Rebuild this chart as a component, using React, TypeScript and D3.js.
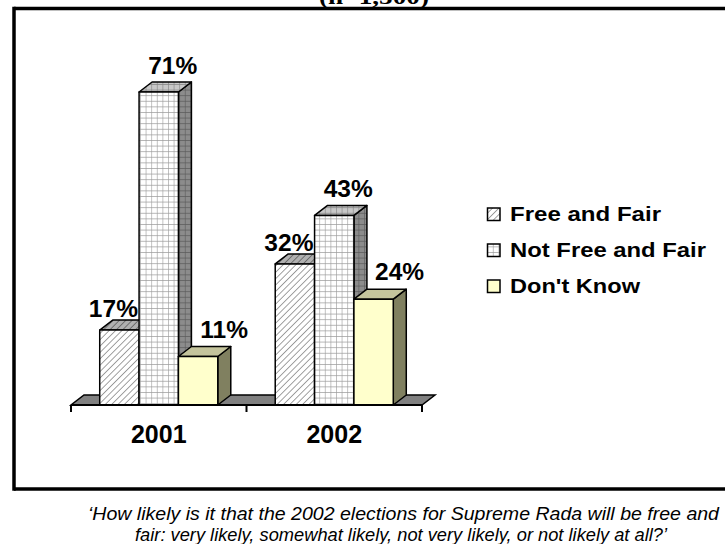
import React, { useEffect } from "react";
import * as d3 from "d3";

const categories = ["2001", "2002"];
const seriesNames = ["Free and Fair", "Not Free and Fair", "Don't Know"];
const freeAndFair = [17, 32];
const notFreeAndFair = [71, 43];
const dontKnow = [11, 24];
const titleText = "(n=1,500)";
const captionLines = [
  "\u2018How likely is it that the 2002 elections for Supreme Rada will be free and",
  "fair: very likely, somewhat likely, not very likely, or not likely at all?\u2019",
];

const seriesValues = [freeAndFair, notFreeAndFair, dontKnow];

const W = 725;
const H = 544;
const DX = 13;
const DY = -10;
const FONT = "'Liberation Sans', Arial, Helvetica, sans-serif";

// per-series face fills and label offsets (style)
const faceFills = [
  { front: "url(#hatchFront)", top: "url(#hatchTop)", side: "url(#hatchSide)" },
  { front: "url(#gridFront)", top: "url(#gridTop)", side: "url(#gridSide)" },
  { front: "#FFFFCC", top: "#C4C49C", side: "#808060" },
];
const legendFills = ["url(#hatchFront)", "url(#gridFront)", "#FFFFCC"];
const legendWidths = [151, 196, 130];
const labelOffsets = [
  { dx: -6, dy: -3 },
  { dx: 14, dy: -8 },
  { dx: 26, dy: -9 },
];

export default function App() {
  useEffect(() => {
    document.body.style.margin = "0";
    document.body.style.overflow = "hidden";
  }, []);

  const x0 = d3.scaleBand<string>().domain(categories).range([71, 422]).padding(0);
  const x1 = d3
    .scaleBand<string>()
    .domain(seriesNames)
    .range([0, x0.bandwidth()])
    .paddingInner(0)
    .paddingOuter(0.73);
  const y = d3.scaleLinear().domain([0, 80]).range([405, 52.3]);
  const base = y(0);
  const [axL, axR] = x0.range();

  const bars: React.ReactNode[] = [];
  const labels: React.ReactNode[] = [];
  categories.forEach((cat, ci) => {
    seriesNames.forEach((s, si) => {
      const v = seriesValues[si][ci];
      const xa = (x0(cat) ?? 0) + (x1(s) ?? 0);
      const xb = xa + x1.bandwidth();
      const yt = y(v);
      const f = faceFills[si];
      const key = `${ci}-${si}`;
      bars.push(
        <g key={key} stroke="#000" strokeWidth={1.5} strokeLinejoin="round">
          <polygon
            points={`${xb},${yt} ${xb + DX},${yt + DY} ${xb + DX},${base + DY} ${xb},${base}`}
            fill={f.side}
          />
          <polygon
            points={`${xa},${yt} ${xb},${yt} ${xb + DX},${yt + DY} ${xa + DX},${yt + DY}`}
            fill={f.top}
          />
          <rect x={xa} y={yt} width={xb - xa} height={base - yt} fill={f.front} />
        </g>
      );
      labels.push(
        <text
          key={"l" + key}
          x={(xa + xb) / 2 + labelOffsets[si].dx}
          y={yt + DY + labelOffsets[si].dy}
          textAnchor="middle"
          fontFamily={FONT}
          fontWeight="bold"
          fontSize={24.5}
        >
          {v}%
        </text>
      );
    });
  });

  return (
    <svg
      width={W}
      height={H}
      style={{ display: "block", background: "#fff", overflow: "hidden" }}
    >
      <defs>
        <pattern id="hatchFront" patternUnits="userSpaceOnUse" width={4.5} height={4.5} patternTransform="rotate(45)">
          <rect width={4.5} height={4.5} fill="#fff" />
          <line x1={0} y1={0} x2={0} y2={4.5} stroke="#8a8a8a" strokeWidth={1.6} />
        </pattern>
        <pattern id="hatchTop" patternUnits="userSpaceOnUse" width={4.5} height={4.5} patternTransform="rotate(45)">
          <rect width={4.5} height={4.5} fill="#b0b0b0" />
          <line x1={0} y1={0} x2={0} y2={4.5} stroke="#606060" strokeWidth={1.6} />
        </pattern>
        <pattern id="hatchSide" patternUnits="userSpaceOnUse" width={4.5} height={4.5} patternTransform="rotate(45)">
          <rect width={4.5} height={4.5} fill="#808080" />
          <line x1={0} y1={0} x2={0} y2={4.5} stroke="#404040" strokeWidth={1.6} />
        </pattern>
        <pattern id="gridFront" patternUnits="userSpaceOnUse" width={5.6} height={5.6}>
          <rect width={5.6} height={5.6} fill="#fff" />
          <path d="M0,0 H5.6 M0,0 V5.6" stroke="#9a9a9a" strokeWidth={1.2} fill="none" />
        </pattern>
        <pattern id="gridTop" patternUnits="userSpaceOnUse" width={5.6} height={5.6}>
          <rect width={5.6} height={5.6} fill="#c8c8c8" />
          <path d="M0,0 H5.6 M0,0 V5.6" stroke="#808080" strokeWidth={1.2} fill="none" />
        </pattern>
        <pattern id="gridSide" patternUnits="userSpaceOnUse" width={5.6} height={5.6}>
          <rect width={5.6} height={5.6} fill="#8c8c8c" />
          <path d="M0,0 H5.6 M0,0 V5.6" stroke="#5a5a5a" strokeWidth={1.2} fill="none" />
        </pattern>
      </defs>

      {/* title (cut off at top, as in the source) */}
      <text
        x={374}
        y={4}
        textAnchor="middle"
        fontFamily="'Liberation Serif', 'Times New Roman', serif"
        fontWeight="bold"
        fontSize={22}
        textLength={110}
        lengthAdjust="spacingAndGlyphs"
      >
        {titleText}
      </text>

      {/* frame: top, left and bottom edges (right edge lies outside the picture) */}
      <line x1={14} x2={W + 200} y1={8.5} y2={8.5} stroke="#000" strokeWidth={3.5} />
      <line x1={14} x2={W + 200} y1={489} y2={489} stroke="#000" strokeWidth={3.5} />
      <line x1={14} x2={14} y1={6.75} y2={490.75} stroke="#000" strokeWidth={3.5} />

      {/* floor */}
      <polygon
        points={`${axL},${base} ${axR},${base} ${axR + DX},${base + DY} ${axL + DX},${base + DY}`}
        fill="#808080"
        stroke="#000"
        strokeWidth={1.5}
      />

      {bars}

      {/* axis */}
      <line x1={axL} x2={axR} y1={base} y2={base} stroke="#000" strokeWidth={2} />
      {[...categories.map((c) => x0(c) ?? 0), axR].map((t, i) => (
        <line key={"t" + i} x1={t} x2={t} y1={base} y2={base + 7} stroke="#000" strokeWidth={2} />
      ))}
      {categories.map((c) => (
        <text
          key={"c" + c}
          x={(x0(c) ?? 0) + x0.bandwidth() / 2}
          y={443}
          textAnchor="middle"
          fontFamily={FONT}
          fontWeight="bold"
          fontSize={25}
        >
          {c}
        </text>
      ))}

      {labels}

      {/* legend */}
      {seriesNames.map((s, i) => (
        <g key={"lg" + s}>
          <rect x={487.5} y={208 + i * 36} width={12.5} height={12.5} fill={legendFills[i]} stroke="#000" strokeWidth={1.5} />
          <text
            x={510}
            y={221 + i * 36}
            fontFamily={FONT}
            fontWeight="bold"
            fontSize={21}
            textLength={legendWidths[i]}
            lengthAdjust="spacingAndGlyphs"
          >
            {s}
          </text>
        </g>
      ))}

      {/* caption */}
      {captionLines.map((t, i) => (
        <text
          key={"cap" + i}
          x={i === 0 ? 88 : 135}
          y={520 + i * 21}
          fontFamily="'Liberation Sans Narrow', 'Arial Narrow', 'Liberation Sans', Arial, sans-serif"
          fontStyle="italic"
          fontSize={18}
          textLength={i === 0 ? 631 : 532}
          lengthAdjust="spacingAndGlyphs"
        >
          {t}
        </text>
      ))}
    </svg>
  );
}
